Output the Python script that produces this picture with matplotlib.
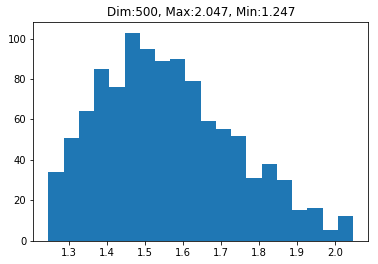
import numpy as np
import matplotlib
matplotlib.use('Agg')
import matplotlib.pyplot as plt

# histogram of 20 bins between min and max
x_min = 1.247
x_max = 2.047
counts = [34, 51, 64, 85, 76, 103, 95, 89, 90, 79,
          59, 55, 52, 31, 38, 30, 15, 16, 5, 12]
title = 'Dim:500, Max:2.047, Min:1.247'

edges = np.linspace(x_min, x_max, len(counts) + 1)
centers = (edges[:-1] + edges[1:]) / 2

fig = plt.figure(figsize=(378 / 72, 264 / 72), dpi=72)
ax = fig.add_axes([0.088, 0.089, 0.886, 0.827])
ax.hist(centers, bins=edges, weights=counts, color='#1f77b4')
ax.set_title(title, fontsize=12)
ax.tick_params(labelsize=10)

fig.savefig('out.png', dpi=72)
